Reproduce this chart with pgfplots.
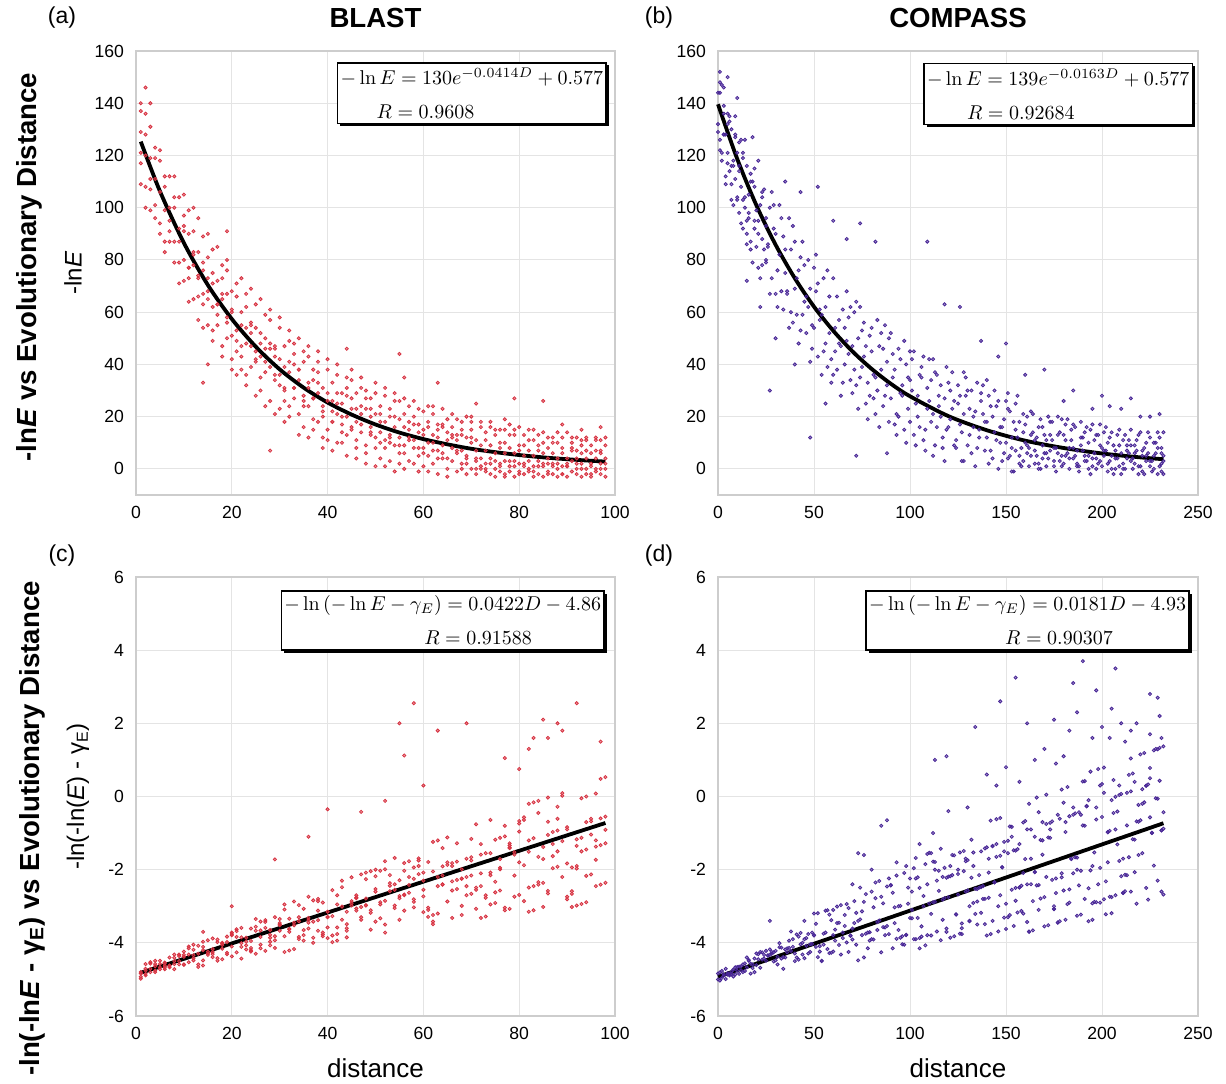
\documentclass[border=0pt]{standalone}
\usepackage[no-math]{fontspec}
\setmainfont{Liberation Sans}
\usepackage{pgfplots}
\pgfplotsset{compat=1.18}
\usetikzlibrary{shadows}

\definecolor{dotred}{RGB}{215,50,65}
\definecolor{dotpurple}{RGB}{72,38,150}
\definecolor{gridgray}{RGB}{228,228,228}
\definecolor{framegray}{RGB}{205,205,205}

\pgfplotsset{
  panel/.style={
    scale only axis, anchor=south west, clip=false,
    axis line style={framegray, line width=0.6pt},
    grid=major, major grid style={gridgray, line width=0.5pt},
    major tick length=0pt,
    tick label style={font=\fontsize{8.8}{10}\selectfont},
    /pgf/number format/assume math mode=true,
    xticklabel style={yshift=-2pt}, yticklabel style={xshift=-2.5pt},
  },
  dots/.style={only marks, mark=*, mark size=0.8pt, color=#1,
    mark options={draw=none, fill=#1, fill opacity=0.5}},
  fit/.style={black, line width=1.9pt, smooth, no marks},
}
\tikzset{
  eqbox/.style={draw=black, line width=0.75pt, fill=white,
    drop shadow={shadow xshift=1.3pt, shadow yshift=-1.3pt, opacity=1, fill=black},
    anchor=north east, align=left, inner xsep=1.5pt, inner ysep=2.5pt,
    font=\fontsize{10}{17}\selectfont},
}
\newcommand{\plab}{\fontsize{11.5}{13}\selectfont}
\newcommand{\ylab}{\fontsize{12}{13}\selectfont}
\newcommand{\rowlab}{\bfseries\fontsize{13.8}{15}\selectfont}

\begin{document}
\begin{tikzpicture}
\path[use as bounding box] (0,0) rectangle (613pt,541.5pt);

% (a) BLAST, -lnE
\begin{axis}[panel, at={(68pt,294pt)}, width=239.5pt, height=222pt,
  xmin=0, xmax=100, ymin=-10, ymax=160,
  xtick={0,20,...,100}, ytick={0,20,...,160}]
\addplot[dots=dotred] coordinates {
(1,117)(1,137)(1,109)(1,129)(1,121)(2,136)(2,108)(2,120)(2,100)(2,128)
(3,111)(3,119)(3,107)(3,131)(3,99)(4,119)(4,96)(4,123)(4,111)(4,101)
(5,90)(5,106)(5,122)(5,94)(5,118)(2,146)(3,140)(1,140)
(6,108)(6,99)(6,83)(6,112)(6,87)(7,87)(7,112)(7,100)(7,95)(7,91)
(8,112)(8,87)(8,104)(8,79)(8,100)(9,92)(9,71)(9,79)(9,104)(9,87)
(10,97)(10,72)(10,105)(10,80)(10,93)(11,77)(11,90)(11,99)(11,73)(11,64)
(12,100)(12,78)(12,65)(12,83)(12,91)(13,66)(13,57)(13,83)(13,74)(13,96)
(14,76)(14,89)(14,67)(14,54)(14,63)(14,33)(15,55)(15,81)(15,68)(15,90)(15,73)(15,40)
(16,75)(16,62)(16,49)(16,84)(16,53)(17,63)(17,85)(17,59)(17,55)(17,72)
(18,43)(18,65)(18,73)(18,47)(18,78)(19,76)(19,50)(19,80)(19,67)(19,58)(19,91)
(20,51)(20,42)(20,60)(20,68)(20,38)(21,66)(21,53)(21,36)(21,45)(21,71)
(22,43)(22,73)(22,60)(22,47)(22,38)(23,67)(23,54)(23,32)(23,36)(23,62)
(24,47)(24,56)(24,39)(24,69)(24,52)(25,28)(25,41)(25,63)(25,54)(25,45)
(26,65)(26,35)(26,43)(26,30)(26,52)(27,46)(27,50)(27,37)(27,24)(27,59)
(28,26)(28,57)(28,48)(28,61)(28,39)(28,7)(29,47)(29,21)(29,34)(29,46)(29,43)
(30,32)(30,36)(30,58)(30,54)(30,23)(31,47)(31,39)(31,26)(31,18)(31,30)
(32,24)(32,20)(32,49)(32,41)(32,53)(33,40)(33,48)(33,31)(33,27)(33,44)
(34,13)(34,50)(34,34)(34,21)(34,38)(35,28)(35,24)(35,41)(35,16)(35,45)
(36,43)(36,31)(36,24)(36,47)(36,12)(37,15)(37,34)(37,19)(37,38)(37,27)
(38,37)(38,18)(38,45)(38,29)(38,41)(39,20)(39,8)(39,31)(39,24)(39,12)
(40,26)(40,42)(40,11)(40,38)(40,15)(41,22)(41,33)(41,7)(41,18)(41,26)
(42,40)(42,10)(42,36)(42,29)(42,21)(43,14)(43,29)(43,25)(43,10)(43,17)
(44,35)(44,5)(44,20)(44,31)(44,13)(44,46)(45,23)(45,15)(45,38)(45,34)(45,27)
(46,8)(46,18)(46,29)(46,11)(46,4)(47,24)(47,35)(47,14)(47,21)(47,31)
(48,9)(48,2)(48,30)(48,6)(48,27)(49,27)(49,20)(49,13)(49,16)(49,23)
(50,12)(50,29)(50,33)(50,1)(50,8)(51,21)(51,4)(51,14)(51,24)(51,18)
(52,31)(52,11)(52,1)(52,8)(52,28)(53,13)(53,23)(53,3)(53,20)(53,10)
(54,-1)(54,16)(54,26)(54,9)(54,29)(55,26)(55,6)(55,19)(55,2)(55,12)(55,44)
(56,9)(56,27)(56,0)(56,21)(56,6)(56,35)(57,18)(57,12)(57,3)(57,24)(57,15)
(58,2)(58,20)(58,26)(58,11)(58,8)(59,14)(59,-1)(59,17)(59,5)(59,23)
(60,22)(60,6)(60,8)(60,13)(60,1)(61,10)(61,16)(61,18)(61,-1)(61,24)
(62,24)(62,2)(62,21)(62,7)(62,10)(63,4)(63,12)(63,-2)(63,15)(63,17)(63,33)
(64,17)(64,6)(64,9)(64,23)(64,4)(65,-3)(65,19)(65,0)(65,11)(65,14)
(66,13)(66,8)(66,21)(66,3)(66,16)(67,6)(67,-1)(67,11)(67,19)(67,13)
(68,18)(68,15)(68,0)(68,7)(68,2)(69,2)(69,20)(69,5)(69,12)(69,-2)
(70,10)(70,0)(70,15)(70,20)(70,18)(71,7)(71,11)(71,-2)(71,4)(71,0)(71,25)
(72,16)(72,4)(72,18)(72,0)(72,9)(73,0)(73,14)(73,2)(73,11)(73,7)
(74,18)(74,2)(74,9)(74,-2)(74,16)(75,3)(75,-3)(75,15)(75,6)(75,13)
(76,10)(76,8)(76,-1)(76,15)(76,1)(77,-3)(77,15)(77,6)(77,10)(77,3)(77,19)
(78,13)(78,-1)(78,17)(78,3)(78,8)(79,1)(79,6)(79,13)(79,15)(79,-3)(79,27)
(80,7)(80,16)(80,2)(80,-2)(80,9)(81,13)(81,9)(81,-2)(81,1)(81,5)
(82,3)(82,-1)(82,11)(82,7)(82,15)(83,5)(83,11)(83,15)(83,-1)(83,1)
(84,-2)(84,1)(84,9)(84,13)(84,7)(85,14)(85,6)(85,2)(85,10)(85,-3)(85,26)
(86,8)(86,2)(86,-2)(86,4)(86,12)(87,-2)(87,12)(87,6)(87,1)(87,10)
(88,10)(88,-3)(88,4)(88,14)(88,2)(89,1)(89,6)(89,12)(89,8)(89,-2)(89,17)
(90,4)(90,14)(90,2)(90,-3)(90,1)(91,10)(91,3)(91,12)(91,7)(91,8)
(92,-2)(92,7)(92,0)(92,12)(92,4)(93,6)(93,11)(93,-3)(93,2)(93,9)(93,15)
(94,12)(94,0)(94,7)(94,4)(94,11)(95,2)(95,-3)(95,9)(95,-2)(95,6)
(96,11)(96,4)(96,0)(96,7)(96,12)(97,7)(97,-2)(97,6)(97,11)(97,2)(97,16)
(98,0)(98,9)(98,12)(98,4)(98,-3)
(10,91)(11,77)(12,82)(13,73)(14,79)(15,65)(16,71)(17,63)(18,67)(19,56)
(20,61)(21,49)(22,55)(23,48)(24,55)(25,42)(26,48)(27,41)(28,46)(29,36)
(30,42)(31,31)(32,37)(33,31)(34,38)(35,26)(36,33)(37,27)(38,33)(39,22)
(40,29)(41,18)(42,25)(43,20)(44,28)(45,16)(46,23)(47,17)(48,23)(49,14)
(50,21)(51,10)(52,18)(53,12)(54,20)(55,9)(56,16)(57,11)(58,17)(59,8)
(60,15)(61,5)(62,13)(63,7)(64,16)(65,4)(66,12)(67,7)(68,13)(69,4)(70,12)
(71,3)(72,1)(73,-1)(74,4)(75,0)(76,2)(77,-2)(78,1)(79,3)(80,-1)(81,2)(82,0)
(83,-3)(84,3)(85,1)(86,-1)(87,2)(88,0)(89,-2)(90,1)(91,-1)(92,2)(93,0)(94,-2)
(95,1)(96,-1)(97,0)(98,2)
};
\addplot[fit] coordinates {(1,125.3)(5,106.3)(10,86.5)(15,70.4)(20,57.4)(25,46.8)(30,38.1)
(35,31.1)(40,25.4)(45,20.8)(50,17.0)(55,13.9)(60,11.4)(65,9.4)(70,7.7)(75,6.4)(80,5.3)
(85,4.4)(90,3.7)(95,3.1)(98,2.8)};
\node[font=\bfseries\fontsize{13.8}{15}\selectfont, yshift=16.5pt] at (rel axis cs:0.5,1) {BLAST};
\node[font=\plab, xshift=-37pt, yshift=16.5pt] at (rel axis cs:0,1) {(a)};
\node[font=\ylab, xshift=-31.5pt, rotate=90] at (rel axis cs:0,0.5) {-ln\textit{E}};
\node[font=\rowlab, xshift=-53.5pt, yshift=3pt, rotate=90] at (rel axis cs:0,0.5) {-ln\textit{E} vs Evolutionary Distance};
\node[eqbox] at (rel axis cs:0.983,0.975) {$-\ln E = 130e^{-0.0414D} + 0.577$\\\hspace{18pt}$R = 0.9608$};
\end{axis}

% (b) COMPASS, -lnE
\begin{axis}[panel, at={(359pt,294pt)}, width=240pt, height=222pt,
  xmin=0, xmax=250, ymin=-10, ymax=160,
  xtick={0,50,...,250}, ytick={0,20,...,160}]
\addplot[dots=dotpurple] coordinates {
(0,129)(0,144)(1,122)(1,148)(2,121)(2,147)(3,128)(3,136)(4,128)(4,109)(5,132)(5,117)
(6,135)(6,133)(7,109)(7,116)(8,116)(8,101)(9,135)(9,127)(10,121)(10,103)(11,116)(11,114)
(12,94)(12,126)(13,121)(13,103)(14,126)(14,104)(15,95)(15,86)(16,96)(16,105)(17,110)(17,87)
(18,110)(18,79)(19,92)(19,115)(20,99)(20,85)(21,118)(21,95)(22,73)(22,101)(23,78)(23,106)
(24,107)(24,84)(25,93)(25,79)(26,86)(26,85)(27,100)(27,67)(28,73)(28,106)(29,92)(29,101)
(30,90)(30,67)(31,76)(31,62)(32,101)(32,82)(33,96)(33,68)(34,61)(34,89)(35,75)(35,84)
(36,68)(36,67)(37,54)(37,96)(38,84)(38,60)(39,93)(39,56)(40,69)(40,87)(41,73)(41,59)
(42,48)(42,76)(43,53)(43,81)(44,87)(44,59)(45,78)(45,64)(46,52)(46,66)(47,62)(47,80)
(48,69)(48,41)(49,46)(49,55)(50,77)(50,54)(51,82)(51,68)(52,43)(52,71)(53,57)(53,61)
(54,59)(54,36)(55,73)(55,45)(56,48)(56,62)(57,39)(57,76)(58,66)(58,52)(59,33)(59,42)
(60,73)(60,36)(61,54)(61,45)(62,38)(62,66)(63,57)(63,48)(64,28)(64,47)(65,61)(65,33)
(66,54)(66,40)(67,68)(67,49)(68,44)(68,58)(69,34)(69,62)(70,29)(70,47)(71,60)(71,38)
(72,64)(72,32)(73,50)(73,23)(74,35)(74,62)(75,39)(75,53)(76,43)(76,56)(77,25)(77,47)
(78,19)(78,33)(79,51)(79,28)(80,54)(80,45)(81,27)(81,36)(82,35)(82,21)(83,57)(83,30)
(84,47)(84,16)(85,38)(85,52)(86,24)(86,46)(87,28)(87,55)(88,41)(88,32)(89,50)(89,18)
(90,27)(90,52)(91,35)(91,44)(92,17)(92,38)(93,13)(93,21)(94,46)(94,20)(95,42)(95,29)
(96,32)(96,28)(97,15)(97,49)(98,10)(98,40)(99,23)(99,35)(100,34)(100,18)(101,42)(101,30)
(102,45)(102,13)(103,25)(103,9)(104,20)(104,28)(105,36)(105,16)(106,35)(106,39)(107,11)(107,43)
(108,15)(108,7)(109,31)(109,23)(110,26)(110,42)(111,18)(111,34)(112,5)(112,21)(113,37)(113,9)
(114,36)(114,16)(115,24)(115,28)(116,20)(116,32)(117,8)(117,12)(118,27)(118,3)(119,39)(119,15)
(120,16)(120,33)(121,30)(121,19)(122,37)(122,23)(123,9)(123,26)(124,8)(124,11)(125,25)(125,32)
(126,28)(126,17)(127,14)(127,3)(128,21)(128,3)(129,35)(129,28)(130,9)(130,30)(131,23)(131,13)
(132,30)(132,6)(133,16)(133,20)(134,1)(134,22)(135,33)(135,8)(136,15)(136,12)(137,26)(137,29)
(138,21)(138,32)(139,7)(139,18)(140,12)(140,18)(141,28)(141,2)(142,24)(142,7)(143,4)(143,20)
(144,30)(144,14)(145,24)(145,11)(146,0)(146,26)(147,10)(147,16)(148,16)(148,3)(149,19)(149,6)
(150,26)(150,10)(151,29)(151,23)(152,5)(152,22)(153,12)(153,-1)(154,18)(154,-1)(155,15)(155,25)
(156,12)(156,28)(157,5)(157,18)(158,1)(158,8)(159,21)(159,14)(160,17)(160,10)(161,20)(161,6)
(162,8)(162,1)(163,13)(163,22)(164,21)(164,14)(165,2)(165,7)(166,12)(166,5)(167,16)(167,0)
(168,0)(168,19)(169,9)(169,16)(170,13)(170,6)(171,1)(171,11)(172,4)(172,20)(173,18)(173,13)
(174,18)(174,11)(175,8)(175,1)(176,8)(176,-1)(177,13)(177,20)(178,14)(178,3)(179,19)(179,5)
(180,2)(180,13)(181,11)(181,17)(182,19)(182,6)(183,0)(183,8)(184,11)(184,15)(185,4)(185,17)
(186,5)(186,16)(187,7)(187,1)(188,-1)(188,1)(189,18)(189,12)(190,12)(190,7)(191,14)(191,3)
(192,3)(192,16)(193,10)(193,5)(194,15)(194,-2)(195,4)(195,17)(196,6)(196,11)(197,0)(197,13)
(198,13)(198,2)(199,17)(199,9)(200,8)(200,1)(201,14)(201,5)(202,16)(202,7)(203,-1)(203,10)
(204,3)(204,12)(205,5)(205,14)(206,9)(206,-2)(207,7)(207,0)(208,4)(208,13)(209,9)(209,15)
(210,-2)(210,6)(211,2)(211,11)(212,13)(212,0)(213,7)(213,4)(214,6)(214,11)(215,15)(215,9)
(216,0)(216,4)(217,9)(217,2)(218,11)(218,7)(219,13)(219,-2)(220,1)(220,14)(221,-1)(221,5)
(222,8)(222,-2)(223,3)(223,10)(224,14)(224,6)(225,12)(225,1)(226,3)(226,-1)(227,5)(227,10)
(228,6)(228,10)(229,-2)(229,14)(230,12)(230,1)(231,8)(231,6)(232,-2)(232,5)(232,14)(232,3)
(52,108)(72,5)(74,94)(82,87)(88,6)(118,63)(126,62)(137,49)(146,43)(150,48)(160,36)(170,38)
(180,26)(200,28)(204,24)(220,20)(1,152)(5,150)(3,146)(10,142)(18,127)(35,110)(43,106)(60,95)
(67,88)(109,87)(100,45)(112,42)(128,37)(140,34)(185,30)(195,23)(210,23)(225,20)(230,21)(215,27)
(15,72)(22,62)(30,50)(40,40)(56,25)(27,30)(48,12)
(0,132)(1,126)(1,144)(2,118)(3,139)(3,128)(4,112)(5,136)(5,121)(6,114)(7,130)(7,103)
(8,118)(9,111)(9,128)(10,104)(11,125)(11,98)(12,108)(13,119)(13,92)(14,100)(15,116)(15,90)
(16,98)(17,113)(17,84)(19,95)(19,108)(21,90)(21,77)(23,88)(23,104)(25,80)(25,96)
(151,4)(155,7)(159,3)(163,5)(167,2)(171,6)(175,3)(179,1)(183,4)(187,2)(191,5)(195,1)
(199,3)(203,2)(207,4)(211,0)(215,3)(219,1)(223,5)(227,0)(231,2)(153,8)(161,9)(169,4)
(177,6)(185,8)(193,0)(201,7)(209,1)(217,6)(225,3)(229,8)(157,2)(165,11)(173,7)(181,5)
(189,9)(197,4)(205,0)(213,9)(221,7)(231,-1)
};
\addplot[fit] coordinates {(0,139.6)(10,118.7)(20,100.9)(30,85.8)(40,73.0)(50,62.1)(60,52.9)
(70,45.0)(80,38.3)(90,32.6)(100,27.8)(120,20.2)(140,14.8)(160,10.8)(180,8.0)(200,5.9)
(220,4.4)(232,3.7)};
\node[font=\bfseries\fontsize{13.8}{15}\selectfont, yshift=16.5pt] at (rel axis cs:0.5,1) {COMPASS};
\node[font=\plab, xshift=-29.5pt, yshift=16.5pt] at (rel axis cs:0,1) {(b)};
\node[eqbox] at (rel axis cs:0.99,0.973) {$-\ln E = 139e^{-0.0163D} + 0.577$\\\hspace{20pt}$R = 0.92684$};
\end{axis}

% (c) BLAST, linearised
\begin{axis}[panel, at={(68pt,33.5pt)}, width=239.5pt, height=219.5pt,
  xmin=0, xmax=100, ymin=-6, ymax=6,
  xtick={0,20,...,100}, ytick={-6,-4,...,6}]
\addplot[dots=dotred] coordinates {
(1,-4.98)(1,-4.84)(1,-4.93)(1,-4.80)(2,-4.58)(2,-4.89)(2,-4.71)(2,-4.76)
(3,-4.80)(3,-4.71)(3,-4.57)(3,-4.53)(4,-4.58)(4,-4.49)(4,-4.76)(4,-4.80)
(5,-4.72)(5,-4.49)(5,-4.67)(5,-4.58)(6,-4.72)(6,-4.54)(6,-4.63)(6,-4.68)
(7,-4.63)(7,-4.40)(7,-4.62)(7,-4.67)(8,-4.41)(8,-4.32)(8,-4.50)(8,-4.72)
(9,-4.59)(9,-4.32)(9,-4.36)(9,-4.50)(10,-4.60)(10,-4.24)(10,-4.33)(10,-4.59)
(11,-4.32)(11,-4.10)(11,-4.53)(11,-4.15)(12,-4.05)(12,-4.48)(12,-4.19)(12,-4.34)
(13,-4.59)(13,-4.66)(13,-4.30)(13,-4.08)(14,-4.48)(14,-4.62)(14,-3.97)(14,-4.11)(14,-3.70)
(15,-4.29)(15,-3.93)(15,-4.24)(15,-4.33)(16,-4.17)(16,-3.88)(16,-4.39)(16,-4.31)
(17,-4.49)(17,-3.98)(17,-3.91)(17,-4.42)(18,-4.02)(18,-4.16)(18,-4.45)(18,-4.06)
(19,-4.27)(19,-3.83)(19,-3.98)(19,-4.31)(20,-4.37)(20,-3.79)(20,-3.72)(20,-3.76)(20,-3.00)
(21,-3.63)(21,-3.84)(21,-4.26)(21,-3.68)(22,-4.43)(22,-4.11)(22,-4.01)(22,-3.59)
(23,-4.18)(23,-3.86)(23,-4.07)(23,-3.97)(24,-4.14)(24,-4.24)(24,-4.20)(24,-3.61)
(25,-4.30)(25,-3.67)(25,-3.56)(25,-3.35)(26,-3.42)(26,-4.05)(26,-4.15)(26,-3.84)
(27,-3.38)(27,-4.22)(27,-3.43)(27,-3.59)(28,-3.65)(28,-4.07)(28,-3.86)(28,-3.97)
(29,-3.30)(29,-3.93)(29,-3.82)(29,-4.14)(29,-1.72)(30,-3.46)(30,-3.52)(30,-3.67)(30,-3.35)
(31,-4.25)(31,-2.95)(31,-3.82)(31,-3.09)(32,-3.63)(32,-3.70)(32,-3.34)(32,-4.21)
(33,-2.87)(33,-3.45)(33,-3.52)(33,-4.17)(34,-3.41)(34,-2.97)(34,-3.84)(34,-3.90)
(35,-3.65)(35,-3.94)(35,-3.07)(35,-3.79)(36,-3.32)(36,-3.61)(36,-3.38)(36,-2.74)(36,-1.10)
(37,-3.42)(37,-4.00)(37,-2.84)(37,-3.86)(38,-3.67)(38,-2.80)(38,-3.38)(38,-2.86)
(39,-3.77)(39,-3.72)(39,-3.82)(39,-2.90)(40,-3.29)(40,-3.15)(40,-3.87)(40,-3.58)(40,-0.35)
(41,-2.56)(41,-3.27)(41,-3.80)(41,-3.98)(42,-3.58)(42,-2.70)(42,-3.94)(42,-3.76)
(43,-2.30)(43,-3.37)(43,-2.48)(43,-3.01)(44,-3.49)(44,-3.67)(44,-3.60)(44,-3.85)
(45,-2.92)(45,-2.98)(45,-2.86)(45,-2.21)(46,-2.70)(46,-3.06)(46,-3.12)(46,-2.76)
(47,-3.37)(47,-3.30)(47,-2.13)(47,-3.02)(47,-0.42)(48,-2.26)(48,-2.08)(48,-2.79)(48,-2.97)
(49,-2.04)(49,-3.11)(49,-3.64)(49,-3.18)(50,-2.18)(50,-3.42)(50,-2.00)(50,-2.53)
(51,-2.89)(51,-2.95)(51,-3.33)(51,-2.03)(52,-1.99)(52,-3.50)(52,-3.72)(52,-1.77)(52,-0.12)
(53,-2.15)(53,-2.59)(53,-2.37)(53,-2.44)(54,-2.55)(54,-1.68)(54,-2.98)(54,-3.05)
(55,-2.72)(55,-2.78)(55,-2.29)(55,-3.37)(55,2.00)(56,-3.12)(56,-1.82)(56,-2.68)(56,-2.03)(56,1.12)
(57,-2.42)(57,-2.20)(57,-2.63)(57,-1.77)(58,-3.03)(58,-2.81)(58,-2.88)(58,-1.94)(58,2.55)
(59,-1.69)(59,-2.12)(59,-1.90)(59,-1.75)(60,-2.73)(60,-3.16)(60,-2.08)(60,-2.30)(60,0.30)
(61,-3.04)(61,-1.79)(61,-3.29)(61,-3.10)(62,-3.49)(62,-3.24)(62,-1.24)(62,-3.42)
(63,-1.20)(63,-3.20)(63,-2.45)(63,-2.20)(63,1.80)(64,-1.91)(64,-2.41)(64,-1.41)(64,-2.16)
(65,-1.87)(65,-1.80)(65,-1.12)(65,-2.87)(66,-2.57)(66,-2.32)(66,-1.82)(66,-3.32)
(67,-2.53)(67,-2.28)(67,-1.28)(67,-1.78)(68,-2.99)(68,-3.24)(68,-2.24)(68,-1.99)
(69,-2.20)(69,-2.45)(69,-2.70)(69,-1.70)(69,2.00)(70,-1.66)(70,-2.16)(70,-1.16)(70,-2.66)
(71,-3.07)(71,-2.49)(71,-2.55)(71,-0.76)(72,-2.45)(72,-1.59)(72,-3.32)(72,-1.30)
(73,-2.70)(73,-1.55)(73,-3.28)(73,-2.77)(74,-2.08)(74,-0.64)(74,-2.95)(74,-2.15)
(75,-2.91)(75,-2.62)(75,-1.18)(75,-2.33)(76,-1.13)(76,-2.57)(76,-1.99)(76,-1.71)
(77,-0.80)(77,-1.09)(77,-3.11)(77,-3.04)(77,1.05)(78,-1.34)(78,-1.41)(78,-3.07)(78,-1.28)
(79,-2.16)(79,-2.74)(79,-1.59)(79,-1.52)(80,-0.67)(80,-0.74)(80,-2.69)(80,-0.96)(80,0.75)
(81,-1.88)(81,-0.57)(81,-0.64)(81,-2.86)(82,-1.51)(82,-2.49)(82,-3.15)(82,-0.20)(82,1.30)
(83,-2.45)(83,-3.11)(83,-0.16)(83,-1.14)(83,1.60)(84,-2.41)(84,-0.45)(84,-2.34)(84,-0.12)
(85,-2.36)(85,-1.38)(85,-1.71)(85,-3.02)(85,2.10)(86,-0.03)(86,-2.65)(86,-0.69)(86,-2.58)(86,1.60)
(87,-1.30)(87,-1.96)(87,-0.97)(87,-1.63)(88,-1.92)(88,-0.93)(88,-0.61)(88,-0.28)(88,2.00)
(89,0.09)(89,-2.20)(89,-1.22)(89,0.02)(89,1.80)(90,-2.81)(90,-1.83)(90,-0.84)(90,-2.74)
(91,-3.02)(91,-2.66)(91,-2.59)(91,-1.94)(92,-1.90)(92,-2.98)(92,-1.17)(92,-1.97)(92,2.55)
(93,-2.94)(93,-1.13)(93,-1.50)(93,-0.05)(94,0.00)(94,-2.17)(94,-2.89)(94,-1.45)
(95,-0.68)(95,-0.61)(95,-1.04)(95,-2.13)(96,-2.45)(96,-1.73)(96,0.08)(96,-1.37)
(97,-2.41)(97,-1.33)(97,-0.60)(97,0.48)(97,1.50)(98,-0.91)(98,-2.36)(98,0.53)(98,-1.28)
(2,-4.85)(4,-4.64)(6,-4.57)(8,-4.58)(10,-4.38)(12,-4.42)(14,-4.20)(16,-4.25)(18,-4.00)
(20,-4.10)(22,-3.85)(24,-3.95)(26,-3.66)(28,-3.78)(30,-3.50)(32,-3.62)(34,-3.30)(36,-3.45)
(38,-3.12)(40,-3.30)(42,-2.95)(44,-3.15)(46,-2.78)(48,-2.98)(50,-2.60)(52,-2.85)(54,-2.40)
(56,-2.70)(58,-2.25)(60,-2.55)(62,-2.05)(64,-2.40)(66,-1.90)(68,-2.25)(70,-1.75)(72,-2.10)
(74,-1.55)(76,-1.95)(78,-1.40)(80,-1.80)(82,-1.20)(84,-1.65)(86,-1.05)(88,-1.50)(90,-0.90)
(92,-1.35)(94,-0.70)(96,-1.20)(98,-0.55)
};
\addplot[fit] coordinates {(1,-4.818)(98,-0.724)};
\node[font=\plab, xshift=-37pt, yshift=10.5pt] at (rel axis cs:0,1) {(c)};
\node[font=\ylab, xshift=-29pt, rotate=90] at (rel axis cs:0,0.5) {-ln(-ln(\textit{E}) - γ\textsubscript{E})};
\node[font=\rowlab, xshift=-52pt, yshift=-16pt, rotate=90] at (rel axis cs:0,0.5) {-ln(-ln\textit{E} - γ\textsubscript{E}) vs Evolutionary Distance};
\node[font=\fontsize{13}{14}\selectfont, yshift=-26pt] at (rel axis cs:0.5,0) {distance};
\node[eqbox] at (rel axis cs:0.979,0.970) {$-\ln\left(-\ln E - \gamma_E\right) = 0.0422D - 4.86$\\\hspace{70pt}$R = 0.91588$};
\end{axis}

% (d) COMPASS, linearised
\begin{axis}[panel, at={(359pt,33.5pt)}, width=240pt, height=219.5pt,
  xmin=0, xmax=250, ymin=-6, ymax=6,
  xtick={0,50,...,250}, ytick={-6,-4,...,6}]
\addplot[dots=dotpurple] coordinates {
(0,-5.00)(0,-4.84)(1,-5.03)(1,-4.81)(2,-4.96)(2,-4.77)(3,-4.90)(3,-4.86)
(4,-4.71)(4,-4.99)(5,-4.87)(5,-4.83)(6,-4.89)(6,-4.86)(7,-4.79)(7,-4.85)
(8,-4.73)(8,-4.92)(9,-4.86)(9,-4.67)(10,-4.66)(10,-4.76)(11,-4.65)(11,-4.85)
(12,-4.75)(12,-4.64)(13,-4.80)(13,-4.59)(14,-4.56)(14,-4.77)(15,-4.67)(15,-4.40)
(16,-4.47)(16,-4.49)(17,-4.57)(17,-4.84)(18,-4.69)(18,-4.59)(19,-4.43)(19,-4.80)
(20,-4.29)(20,-4.61)(21,-4.45)(21,-4.31)(22,-4.68)(22,-4.25)(23,-4.46)(23,-4.26)
(24,-4.43)(24,-4.33)(25,-4.49)(25,-4.22)(26,-4.34)(26,-4.35)(27,-4.18)(27,-4.33)(27,-3.40)
(28,-4.25)(28,-4.30)(29,-4.51)(29,-4.26)(30,-4.22)(30,-4.48)(31,-4.38)(31,-4.59)
(32,-4.01)(32,-4.12)(33,-4.13)(33,-4.43)(34,-4.71)(34,-4.39)(35,-4.18)(35,-4.40)
(36,-4.15)(36,-4.26)(37,-3.94)(37,-4.14)(38,-3.69)(38,-4.22)(39,-4.11)(39,-3.90)
(40,-4.50)(40,-4.29)(41,-3.77)(41,-4.40)(42,-4.46)(42,-3.83)(43,-3.73)(43,-4.04)
(44,-4.32)(44,-4.00)(45,-4.42)(45,-3.90)(46,-3.87)(46,-4.08)(47,-4.29)(47,-3.76)
(48,-4.04)(48,-4.25)(49,-3.72)(49,-4.03)(50,-3.80)(50,-3.79)(51,-4.11)(51,-3.48)
(52,-4.39)(52,-3.19)(53,-4.09)(53,-4.24)(54,-4.50)(54,-4.49)(55,-4.05)(55,-3.75)
(56,-3.72)(56,-3.12)(57,-3.11)(57,-4.17)(58,-4.28)(58,-3.23)(59,-4.27)(59,-3.38)
(60,-3.79)(60,-4.24)(61,-3.94)(61,-3.64)(62,-3.01)(62,-3.46)(63,-3.45)(63,-4.06)
(64,-2.97)(64,-4.32)(65,-3.72)(65,-3.87)(66,-3.54)(66,-3.24)(67,-3.99)(67,-2.94)
(68,-4.25)(68,-3.05)(69,-3.80)(69,-3.81)(70,-3.61)(70,-3.91)(71,-2.86)(71,-3.46)
(72,-4.05)(72,-3.18)(73,-4.48)(73,-3.40)(73,-1.55)(74,-2.49)(74,-3.36)(75,-3.14)(75,-3.79)
(76,-4.40)(76,-2.88)(77,-3.75)(77,-2.67)(78,-4.15)(78,-3.72)(79,-3.94)(79,-3.71)
(80,-3.90)(80,-2.60)(81,-3.03)(81,-3.91)(82,-2.78)(82,-2.35)(83,-3.43)(83,-3.65)
(84,-3.39)(84,-2.31)(85,-4.26)(85,-2.74)(85,-0.80)(86,-2.92)(86,-3.57)(87,-3.79)(87,-3.58)
(88,-3.54)(88,-2.46)(89,-3.76)(89,-2.24)(88,-0.65)(90,-2.42)(90,-2.43)(91,-4.15)(91,-2.63)
(92,-3.03)(92,-3.46)(93,-3.89)(93,-2.16)(94,-3.00)(94,-3.65)(95,-2.99)(95,-3.86)
(96,-4.04)(96,-3.82)(97,-2.09)(97,-4.05)(98,-3.79)(98,-3.78)(99,-2.93)(99,-2.49)
(100,-3.32)(100,-2.24)(101,-3.33)(101,-3.10)(102,-3.90)(102,-1.96)(103,-2.24)(103,-1.68)
(104,-3.32)(104,-2.21)(105,-4.15)(105,-3.87)(106,-3.55)(106,-3.83)(107,-2.72)(107,-3.00)
(108,-4.07)(108,-1.85)(109,-1.57)(109,-3.79)(110,-2.93)(110,-1.54)(111,-1.55)(111,-3.21)
(112,-2.89)(112,-1.78)(113,-1.79)(113,-2.88)(113,1.00)(114,-3.69)(114,-2.30)(115,-2.03)(115,-2.58)
(116,-3.93)(116,-1.43)(117,-3.37)(117,-2.82)(118,-2.78)(118,-1.95)(119,-2.22)(119,-3.61)(119,1.10)
(120,-2.75)(120,-2.19)(121,-3.86)(121,-2.18)(122,-2.15)(122,-1.60)(123,-3.82)(123,-1.61)
(124,-3.23)(124,-3.22)(125,-2.12)(125,-2.68)(126,-1.53)(126,-3.75)(127,-3.76)(127,-3.47)
(128,-2.04)(128,-1.49)(129,-2.60)(129,-1.77)(130,-1.74)(130,-2.57)(131,-3.40)(131,-3.41)
(132,-1.18)(132,-2.22)(133,-2.91)(133,-1.53)(134,-2.52)(134,-3.21)(135,-2.87)(135,-2.53)(134,1.90)
(136,-2.15)(136,-2.49)(137,-2.48)(137,-3.18)(138,-2.45)(138,-2.80)(139,-1.42)(139,-3.49)
(140,-3.80)(140,-1.39)(141,-2.08)(141,-2.77)(142,-0.66)(142,-3.76)(143,-1.35)(143,-1.36)
(144,-2.34)(144,-2.35)(145,-0.62)(145,-1.65)(146,-3.00)(146,-3.69)(147,-1.62)(147,-0.59)(147,2.60)
(148,-1.93)(148,-1.94)(149,-3.31)(149,-1.24)(150,-3.62)(150,-2.93)(151,-1.21)(151,-1.55)
(152,-3.24)(152,-0.82)(153,-2.55)(153,-0.83)(154,-1.47)(154,-3.54)(155,-1.48)(155,-2.85)(155,3.25)
(156,-1.44)(156,-3.17)(157,-2.48)(157,-2.49)(158,-3.13)(158,-2.44)(159,-0.71)(159,-2.09)
(160,-1.71)(160,-0.67)(161,-2.40)(161,-3.43)(161,2.00)(162,-3.70)(162,-3.69)(163,-0.90)(163,-1.70)
(164,-2.86)(164,-3.66)(165,-2.06)(165,-2.07)(166,-0.03)(166,-2.43)(167,-2.42)(167,-0.43)
(168,-2.79)(168,-1.19)(169,-1.59)(169,-1.20)(170,-3.55)(170,-2.75)(171,0.05)(171,-0.75)
(172,-1.12)(172,-3.52)(173,-1.13)(173,-0.72)(174,-2.28)(174,-0.68)(175,-3.08)(175,-3.07)(175,2.10)
(176,-2.24)(176,-2.64)(177,-3.44)(177,-3.45)(178,-0.61)(178,-3.41)(179,0.19)(179,-2.21)
(180,-2.57)(180,-0.17)(181,-0.97)(181,-3.37)(182,0.26)(182,-2.94)(183,-2.54)(183,-0.54)(183,1.80)
(184,-1.70)(184,-1.71)(185,-2.10)(185,-0.50)(185,3.10)(186,-1.66)(186,-0.46)(187,-3.26)(187,-1.67)
(188,-0.43)(188,-2.43)(189,-2.03)(189,-3.23)(190,-0.79)(190,0.41)(191,-0.80)(191,0.42)(190,3.70)
(192,-0.26)(192,-0.27)(193,-2.51)(193,-3.41)(194,0.68)(194,-2.02)(195,-2.92)(195,-3.37)
(196,-2.88)(196,-1.53)(197,-2.89)(197,-0.63)(197,2.90)(198,0.75)(198,-2.40)(199,0.30)(199,-1.95)
(200,-0.56)(200,0.34)(201,-2.81)(201,0.79)(202,-3.22)(202,-2.32)(203,-0.97)(203,-0.98)
(204,-2.74)(204,-0.94)(205,-2.75)(205,-3.19)(206,0.45)(206,-0.45)(207,-0.90)(207,-0.01)(207,3.50)
(208,-1.31)(208,-0.41)(209,-1.76)(209,0.04)(210,0.07)(210,-2.18)(211,-2.63)(211,-2.64)
(212,-2.59)(212,-2.14)(213,-0.79)(213,-2.15)(214,-1.66)(214,0.59)(215,1.04)(215,0.14)
(216,0.63)(216,-1.17)(217,-1.18)(217,-2.07)(218,-0.68)(218,-2.93)(219,-0.69)(219,-0.23)
(220,1.15)(220,-0.65)(221,-1.55)(221,-0.20)(222,1.19)(222,-0.16)(223,0.29)(223,0.30)
(224,-2.82)(224,0.33)(225,0.78)(225,-0.57)(225,2.80)(226,-0.99)(226,-1.00)(227,1.26)(227,-1.89)
(228,-0.05)(228,1.30)(229,1.29)(229,-0.06)(229,2.70)(230,0.43)(230,1.33)(231,-0.92)(231,-0.93)
(232,-0.43)(232,-0.88)(232,1.37)(232,-2.68)
(120,-0.40)(130,-0.30)(140,0.60)(145,0.30)(165,1.00)(170,1.30)(180,1.10)(187,2.30)(195,1.60)
(200,1.90)(205,2.40)(212,1.50)(218,2.00)(225,1.70)(230,2.20)(231,1.60)(150,0.80)(157,0.40)
(162,-0.20)(176,0.90)(112,-1.00)(105,-1.30)(98,-1.90)(93,-1.80)(80,-2.00)(76,-1.60)(70,-2.40)
(60,-3.10)(50,-3.20)(45,-3.40)(204,1.60)(210,2.00)(215,1.80)
(101,-2.60)(105,-2.50)(109,-2.40)(113,-2.00)(117,-2.20)(121,-1.90)(125,-2.00)(129,-1.70)
(133,-1.90)(137,-1.50)(141,-1.70)(145,-1.30)(149,-1.50)(153,-1.10)(157,-1.30)(161,-0.90)
(165,-1.10)(169,-0.70)(173,-0.90)(177,-0.50)(181,-0.70)(185,-0.30)(189,-0.50)(193,-0.10)
(197,-0.30)(201,0.10)(205,-0.10)(209,0.30)(213,0.10)(217,0.40)(221,0.20)(225,0.50)
(103,-3.90)(111,-3.80)(119,-3.70)(127,-3.60)(135,-3.50)(143,-3.40)(151,-3.30)(159,-3.20)
(167,-3.10)(175,-3.00)(183,-2.90)(191,-2.80)(199,-2.90)(207,-2.70)(215,-2.60)(223,-2.50)
(231,-2.60)(229,-2.30)(219,-1.60)(211,-1.70)(203,-1.80)(195,-1.90)(187,-2.00)(179,-2.10)
(171,-2.20)(163,-2.40)(155,-2.50)(147,-2.70)(139,-2.80)(131,-3.00)
};
\addplot[fit] coordinates {(0,-4.93)(232,-0.731)};
\node[font=\plab, xshift=-29.5pt, yshift=10.5pt] at (rel axis cs:0,1) {(d)};
\node[font=\fontsize{13}{14}\selectfont, yshift=-26pt] at (rel axis cs:0.5,0) {distance};
\node[eqbox] at (rel axis cs:0.983,0.970) {$-\ln\left(-\ln E - \gamma_E\right) = 0.0181D - 4.93$\\\hspace{68pt}$R = 0.90307$};
\end{axis}
\end{tikzpicture}
\end{document}
